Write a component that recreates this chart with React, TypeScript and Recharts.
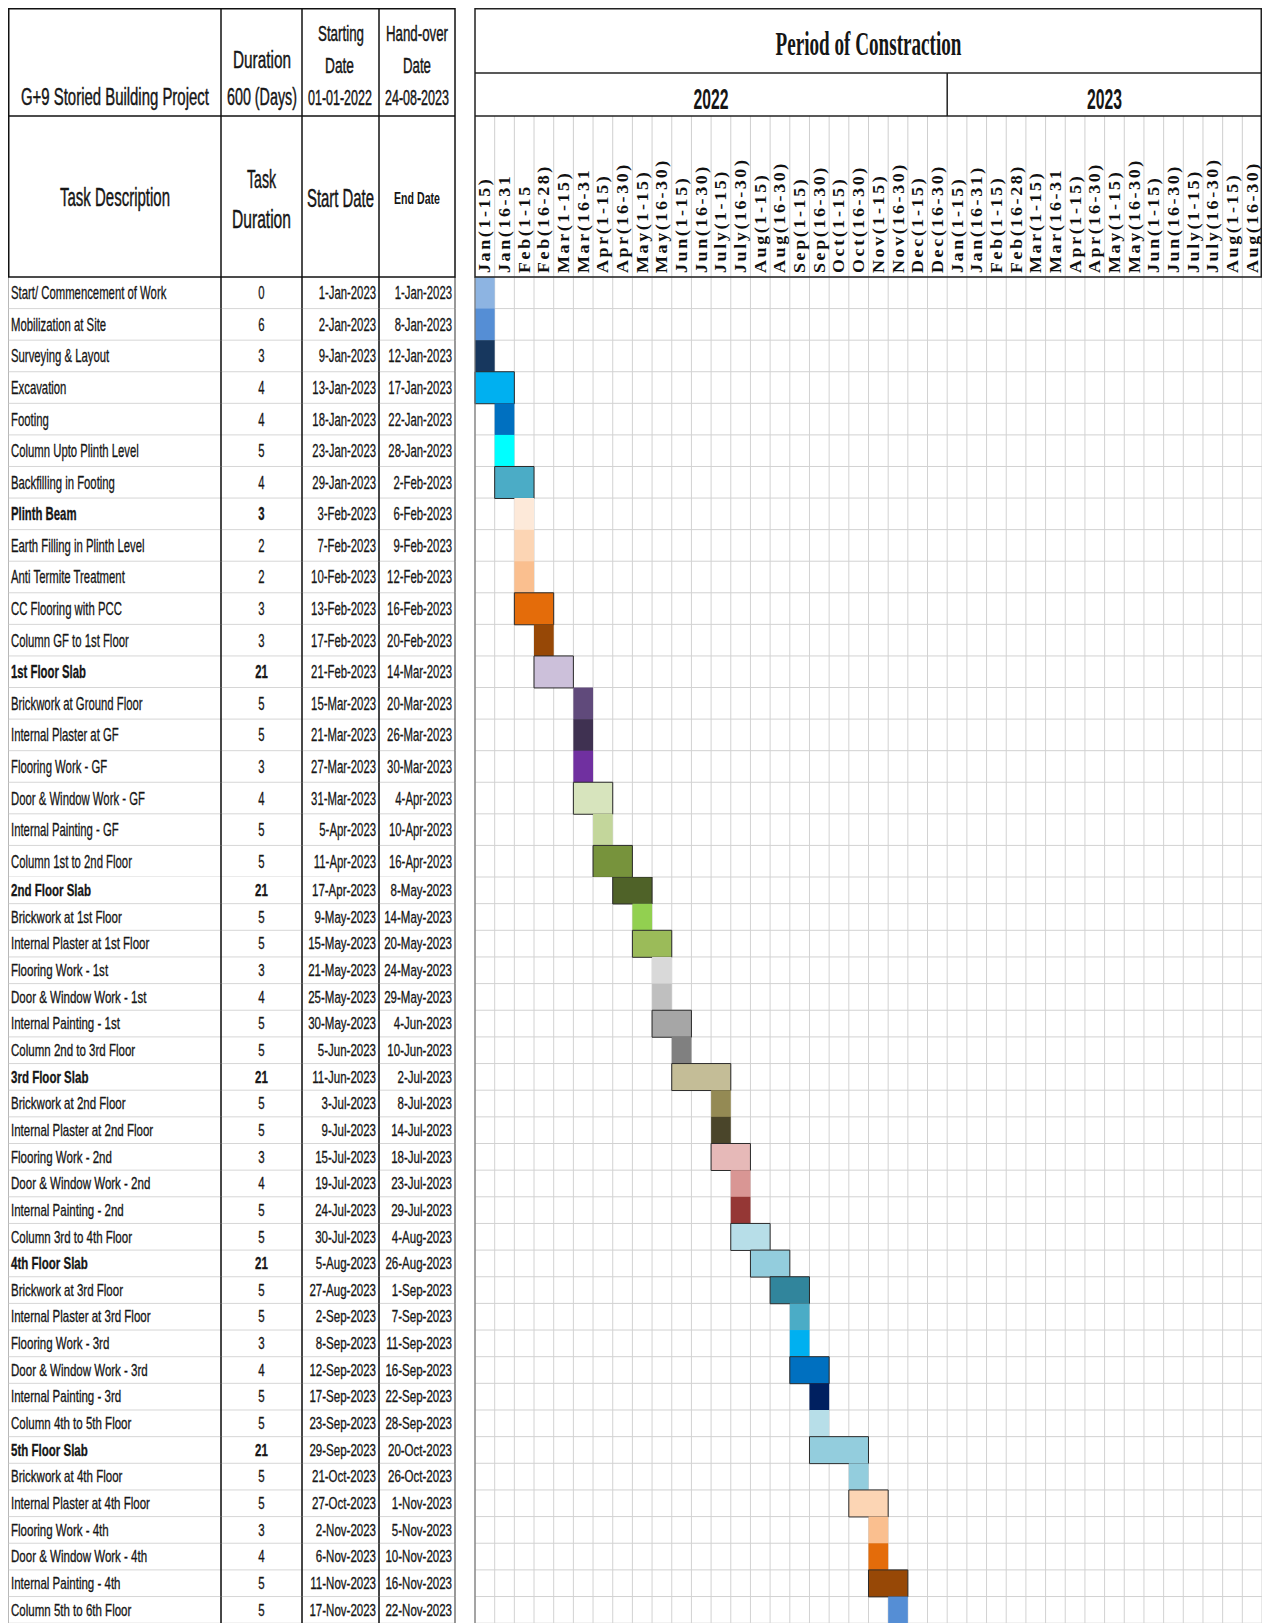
import React from "react";
import { BarChart, Bar, XAxis, YAxis, CartesianGrid, Cell, ReferenceLine } from "recharts";

// ---- task table ----
const taskNames = [
  "Start/ Commencement of Work", "Mobilization at Site", "Surveying & Layout", "Excavation", "Footing",
  "Column Upto Plinth Level", "Backfilling in Footing", "Plinth Beam", "Earth Filling in Plinth Level",
  "Anti Termite Treatment", "CC Flooring with PCC", "Column GF to 1st Floor", "1st Floor Slab",
  "Brickwork at Ground Floor", "Internal Plaster at GF", "Flooring Work - GF", "Door & Window Work - GF",
  "Internal Painting - GF", "Column 1st to 2nd Floor",
  "2nd Floor Slab", "Brickwork at 1st Floor", "Internal Plaster at 1st Floor", "Flooring Work - 1st",
  "Door & Window Work - 1st", "Internal Painting - 1st", "Column 2nd to 3rd Floor",
  "3rd Floor Slab", "Brickwork at 2nd Floor", "Internal Plaster at 2nd Floor", "Flooring Work - 2nd",
  "Door & Window Work - 2nd", "Internal Painting - 2nd", "Column 3rd to 4th Floor",
  "4th Floor Slab", "Brickwork at 3rd Floor", "Internal Plaster at 3rd Floor", "Flooring Work - 3rd",
  "Door & Window Work - 3rd", "Internal Painting - 3rd", "Column 4th to 5th Floor",
  "5th Floor Slab", "Brickwork at 4th Floor", "Internal Plaster at 4th Floor", "Flooring Work - 4th",
  "Door & Window Work - 4th", "Internal Painting - 4th", "Column 5th to 6th Floor",
];

const taskDays = [
  0, 6, 3, 4, 4, 5, 4, 3, 2, 2, 3, 3, 21, 5, 5, 3, 4, 5, 5,
  21, 5, 5, 3, 4, 5, 5, 21, 5, 5, 3, 4, 5, 5, 21, 5, 5, 3, 4, 5, 5, 21, 5, 5, 3, 4, 5, 5,
];

const startDates = [
  "1-Jan-2023", "2-Jan-2023", "9-Jan-2023", "13-Jan-2023", "18-Jan-2023", "23-Jan-2023", "29-Jan-2023",
  "3-Feb-2023", "7-Feb-2023", "10-Feb-2023", "13-Feb-2023", "17-Feb-2023", "21-Feb-2023", "15-Mar-2023",
  "21-Mar-2023", "27-Mar-2023", "31-Mar-2023", "5-Apr-2023", "11-Apr-2023", "17-Apr-2023", "9-May-2023",
  "15-May-2023", "21-May-2023", "25-May-2023", "30-May-2023", "5-Jun-2023", "11-Jun-2023", "3-Jul-2023",
  "9-Jul-2023", "15-Jul-2023", "19-Jul-2023", "24-Jul-2023", "30-Jul-2023", "5-Aug-2023", "27-Aug-2023",
  "2-Sep-2023", "8-Sep-2023", "12-Sep-2023", "17-Sep-2023", "23-Sep-2023", "29-Sep-2023", "21-Oct-2023",
  "27-Oct-2023", "2-Nov-2023", "6-Nov-2023", "11-Nov-2023", "17-Nov-2023",
];

const endDates = [
  "1-Jan-2023", "8-Jan-2023", "12-Jan-2023", "17-Jan-2023", "22-Jan-2023", "28-Jan-2023", "2-Feb-2023",
  "6-Feb-2023", "9-Feb-2023", "12-Feb-2023", "16-Feb-2023", "20-Feb-2023", "14-Mar-2023", "20-Mar-2023",
  "26-Mar-2023", "30-Mar-2023", "4-Apr-2023", "10-Apr-2023", "16-Apr-2023", "8-May-2023", "14-May-2023",
  "20-May-2023", "24-May-2023", "29-May-2023", "4-Jun-2023", "10-Jun-2023", "2-Jul-2023", "8-Jul-2023",
  "14-Jul-2023", "18-Jul-2023", "23-Jul-2023", "29-Jul-2023", "4-Aug-2023", "26-Aug-2023", "1-Sep-2023",
  "7-Sep-2023", "11-Sep-2023", "16-Sep-2023", "22-Sep-2023", "28-Sep-2023", "20-Oct-2023", "26-Oct-2023",
  "1-Nov-2023", "5-Nov-2023", "10-Nov-2023", "16-Nov-2023", "22-Nov-2023",
];

// slab rows are set in bold
const boldRows = [7, 12, 19, 26, 33, 40];

// ---- gantt bars: first and last half-month column (0 = Jan(1-15) 2022) ----
const barFrom = [
  0, 0, 0, 0, 1, 1, 1, 2, 2, 2, 2, 3, 3, 5, 5, 5, 5, 6, 6,
  7, 8, 8, 9, 9, 9, 10, 10, 12, 12, 12, 13, 13, 13, 14, 15, 16, 16, 16, 17, 17, 17, 19, 19, 20, 20, 20, 21,
];
const barTo = [
  0, 0, 0, 1, 1, 1, 2, 2, 2, 2, 3, 3, 4, 5, 5, 5, 6, 6, 7,
  8, 8, 9, 9, 9, 10, 10, 12, 12, 12, 13, 13, 13, 14, 15, 16, 16, 16, 17, 17, 17, 19, 19, 20, 20, 20, 21, 21,
];

const barColors = [
  "#8DB4E2", "#558ED5", "#17375E", "#00B0F0", "#0070C0", "#00FFFF", "#4BACC6", "#FDE9D9", "#FCD5B4",
  "#FABF8F", "#E46C0A", "#974806", "#CCC0DA", "#604A7B", "#3F3151", "#7030A0", "#D7E4BD", "#C3D69B",
  "#77933C", "#4F6228", "#92D050", "#9BBB59", "#D9D9D9", "#BFBFBF", "#A6A6A6", "#808080", "#C4BD97",
  "#948A54", "#4A452A", "#E6B9B8", "#D99694", "#953735", "#B7DEE8", "#93CDDD", "#31859C", "#4BACC6",
  "#00B0F0", "#0070C0", "#002060", "#B7DEE8", "#93CDDD", "#93CDDD", "#FCD5B4", "#FABF8F", "#E46C0A",
  "#974806", "#558ED5",
];

// ---- period columns ----
const periods2022 = [
  "Jan(1-15)", "Jan(16-31", "Feb(1-15", "Feb(16-28)", "Mar(1-15)", "Mar(16-31", "Apr(1-15)", "Apr(16-30)",
  "May(1-15)", "May(16-30)", "Jun(1-15)", "Jun(16-30)", "July(1-15)", "July(16-30)", "Aug(1-15)", "Aug(16-30)",
  "Sep(1-15)", "Sep(16-30)", "Oct(1-15)", "Oct(16-30)", "Nov(1-15)", "Nov(16-30)", "Dec(1-15)", "Dec(16-30)",
];
const periods2023 = [
  "Jan(1-15)", "Jan(16-31)", "Feb(1-15)", "Feb(16-28)", "Mar(1-15)", "Mar(16-31", "Apr(1-15)", "Apr(16-30)",
  "May(1-15)", "May(16-30)", "Jun(1-15)", "Jun(16-30)", "July(1-15)", "July(16-30)", "Aug(1-15)", "Aug(16-30)",
];
const periodLabels = [...periods2022, ...periods2023];

// ---- layout ----
const SANS = "'Liberation Sans', Arial, sans-serif";
const SERIF = "'Liberation Serif', 'Times New Roman', serif";
const INK = "#161616";
const FULL_W = 1254;
const AXIS_W = 467;
const TABLE_W = 447;
const TABLE_COLS = [0, 213, 294, 371, 447];
const TITLE_H = 65;
const YEAR_H = 43;
const LABEL_H = 161;
const HEAD_H = TITLE_H + YEAR_H + LABEL_H;
const COLS = periodLabels.length;
const COL_W = (FULL_W - AXIS_W) / COLS;
const TOP_ROWS = 19;
const TOP_ROW_H = 600 / TOP_ROWS;
const BOTTOM_ROW_H = 26.65;

const rows = taskNames.map((name, i) => ({
  row: String(i),
  name,
  span: [barFrom[i], barTo[i] + 1],
}));

const edges = (start: number, size: number, n: number) =>
  Array.from({ length: n + 1 }, (_, i) => start + (size * i) / n);

// text width in the browser, used to squeeze header captions to a set width
let measureCtx: CanvasRenderingContext2D | null = null;
const textWidth = (text: string, font: string) => {
  if (!measureCtx) measureCtx = document.createElement("canvas").getContext("2d");
  if (!measureCtx) return 1;
  measureCtx.font = font;
  return measureCtx.measureText(text).width || 1;
};

// one table row drawn next to its gantt row
const rowTick = (rowH: number, fs: number, sx: number) => (props: any) => {
  const i = Number(props.payload.value);
  const cy = props.y;
  const top = cy - rowH / 2;
  const bottom = cy + rowH / 2;
  const base = cy + fs * 0.36;
  const weight = boldRows.includes(i) ? 700 : 400;
  const cell = (x: number, anchor: string, content: any, w: number) => (
    <text
      transform={`translate(${x},${base}) scale(${sx},1)`}
      textAnchor={anchor}
      fontFamily={SANS}
      fontSize={fs}
      fontWeight={w}
      fill={INK}
      stroke={INK}
      strokeWidth={0.3}
    >
      {content}
    </text>
  );
  return (
    <g>
      <line x1={0} x2={TABLE_W} y1={bottom} y2={bottom} stroke="#d6d6d6" />
      <line x1={0.5} x2={0.5} y1={top} y2={bottom} stroke="#b8b8b8" />
      {TABLE_COLS.slice(1, 4).map((x) => (
        <line key={x} x1={x} x2={x} y1={top} y2={bottom} stroke="#1a1a1a" strokeWidth={1.6} />
      ))}
      <line x1={TABLE_W} x2={TABLE_W} y1={top} y2={bottom} stroke="#555" strokeWidth={1.2} />
      {cell(3, "start", taskNames[i], weight)}
      {cell((TABLE_COLS[1] + TABLE_COLS[2]) / 2, "middle", taskDays[i], weight)}
      {cell(TABLE_COLS[3] - 3, "end", startDates[i], 400)}
      {cell(TABLE_COLS[4] - 3, "end", endDates[i], 400)}
    </g>
  );
};

// rotated half-month label with the column divider in the header band
const periodTick = (props: any) => {
  const { x, payload } = props;
  const label = periodLabels[Math.floor(payload.value)];
  const right = x + COL_W / 2;
  return (
    <g>
      <line x1={right} x2={right} y1={TITLE_H + YEAR_H} y2={HEAD_H} stroke="#cfcfcf" />
      <text
        transform={`translate(${x + 5.5},${HEAD_H - 4}) rotate(-90) scale(1,0.9)`}
        fontFamily={SERIF}
        fontWeight={700}
        fontSize={18}
        letterSpacing={2.6}
        fill="#111"
      >
        {label}
      </text>
    </g>
  );
};

function GanttPart({ data, rowH, fs, sx, header }: any) {
  const top = header ? TITLE_H + YEAR_H : 0;
  const height = top + (header ? LABEL_H : 0) + data.length * rowH;
  return (
    <BarChart
      width={FULL_W}
      height={height}
      data={data}
      layout="vertical"
      barCategoryGap={0}
      barGap={0}
      margin={{ top, right: 0, bottom: 0, left: 0 }}
    >
      <CartesianGrid
        stroke="#d2d2d2"
        verticalCoordinatesGenerator={({ offset }: any) => edges(offset.left, offset.width, COLS)}
        horizontalCoordinatesGenerator={({ offset }: any) => edges(offset.top, offset.height, data.length)}
      />
      <XAxis
        type="number"
        orientation="top"
        domain={[0, COLS]}
        ticks={periodLabels.map((_, i) => i + 0.5)}
        interval={0}
        height={LABEL_H}
        axisLine={false}
        tickLine={false}
        tick={periodTick}
        hide={!header}
      />
      <YAxis
        type="category"
        dataKey="row"
        width={AXIS_W}
        interval={0}
        axisLine={false}
        tickLine={false}
        tick={rowTick(rowH, fs, sx)}
      />
      <ReferenceLine x={0} stroke="#777" strokeWidth={1.2} />
      <Bar dataKey="span" isAnimationActive={false}>
        {data.map((d: any) => {
          const i = Number(d.row);
          const wide = barTo[i] > barFrom[i];
          return (
            <Cell
              key={d.row}
              fill={barColors[i]}
              stroke={wide ? "#2a2a2a" : "none"}
              strokeWidth={wide ? 1 : 0}
            />
          );
        })}
      </Bar>
    </BarChart>
  );
}

// header caption squeezed horizontally to width w, like the sheet's narrow font
const HeadText = ({ x, y, w, fs, bold, serif, children }: any) => {
  const family = serif ? SERIF : SANS;
  const weight = bold ? 700 : 400;
  const sx = w / textWidth(String(children), `${weight} ${fs}px ${family}`);
  return (
    <text
      transform={`translate(${x},${y}) scale(${sx},1)`}
      fontFamily={family}
      fontSize={fs}
      fontWeight={weight}
      fill={INK}
      stroke={INK}
      strokeWidth={bold ? 0 : 0.45}
    >
      {children}
    </text>
  );
};

function Header() {
  const split = AXIS_W + periods2022.length * COL_W;
  const center2022 = (AXIS_W + split) / 2;
  const center2023 = (split + FULL_W) / 2;
  const ganttCenter = (AXIS_W + FULL_W) / 2;
  return (
    <svg width={FULL_W} height={HEAD_H + 2} style={{ position: "absolute", left: 0, top: 0 }}>
      {/* table header */}
      <rect x={0.75} y={0.75} width={TABLE_W - 0.75} height={HEAD_H - 0.75} fill="none" stroke="#111" strokeWidth={1.5} />
      <line x1={0} x2={TABLE_W} y1={TITLE_H + YEAR_H} y2={TITLE_H + YEAR_H} stroke="#111" strokeWidth={1.5} />
      {TABLE_COLS.slice(1, 4).map((x) => (
        <line key={x} x1={x} x2={x} y1={0} y2={HEAD_H} stroke="#111" strokeWidth={1.5} />
      ))}
      <HeadText x={13} y={97} w={188} fs={23}>G+9 Storied Building Project</HeadText>
      <HeadText x={225} y={60} w={58} fs={23}>Duration</HeadText>
      <HeadText x={219} y={97} w={70} fs={23}>600 (Days)</HeadText>
      <HeadText x={310} y={33} w={46} fs={22}>Starting</HeadText>
      <HeadText x={317} y={65} w={29} fs={22}>Date</HeadText>
      <HeadText x={300} y={97} w={64} fs={22}>01-01-2022</HeadText>
      <HeadText x={378} y={33} w={62} fs={22}>Hand-over</HeadText>
      <HeadText x={395} y={65} w={28} fs={22}>Date</HeadText>
      <HeadText x={377} y={97} w={64} fs={22}>24-08-2023</HeadText>
      <HeadText x={52} y={198} w={110} fs={25}>Task Description</HeadText>
      <HeadText x={239} y={180} w={29} fs={25}>Task</HeadText>
      <HeadText x={224} y={220} w={59} fs={25}>Duration</HeadText>
      <HeadText x={299} y={199} w={67} fs={25}>Start Date</HeadText>
      <HeadText x={386} y={196} w={46} fs={16} bold>End Date</HeadText>

      {/* gantt header */}
      <rect x={AXIS_W} y={0.75} width={FULL_W - AXIS_W - 0.75} height={HEAD_H - 0.75} fill="none" stroke="#222" strokeWidth={1.5} />
      <line x1={AXIS_W} x2={FULL_W} y1={TITLE_H} y2={TITLE_H} stroke="#222" strokeWidth={1.5} />
      <line x1={AXIS_W} x2={FULL_W} y1={TITLE_H + YEAR_H} y2={TITLE_H + YEAR_H} stroke="#222" strokeWidth={1.5} />
      <line x1={split} x2={split} y1={TITLE_H} y2={TITLE_H + YEAR_H} stroke="#222" strokeWidth={1.5} />
      <HeadText x={ganttCenter - 93} y={47} w={186} fs={33} bold serif>Period of Constraction</HeadText>
      <HeadText x={center2022 - 17.5} y={101} w={35} fs={30} bold>2022</HeadText>
      <HeadText x={center2023 - 17.5} y={101} w={35} fs={30} bold>2023</HeadText>
    </svg>
  );
}

export default function App() {
  const topRows = rows.slice(0, TOP_ROWS);
  const bottomRows = rows.slice(TOP_ROWS);
  return (
    <div style={{ position: "fixed", left: 8, top: 8, width: FULL_W, height: 1615, background: "#fff" }}>
      <GanttPart data={topRows} rowH={TOP_ROW_H} fs={18} sx={0.63} header />
      <div style={{ position: "absolute", left: 0, top: HEAD_H + TOP_ROWS * TOP_ROW_H }}>
        <GanttPart data={bottomRows} rowH={BOTTOM_ROW_H} fs={16} sx={0.72} header={false} />
      </div>
      <Header />
    </div>
  );
}
